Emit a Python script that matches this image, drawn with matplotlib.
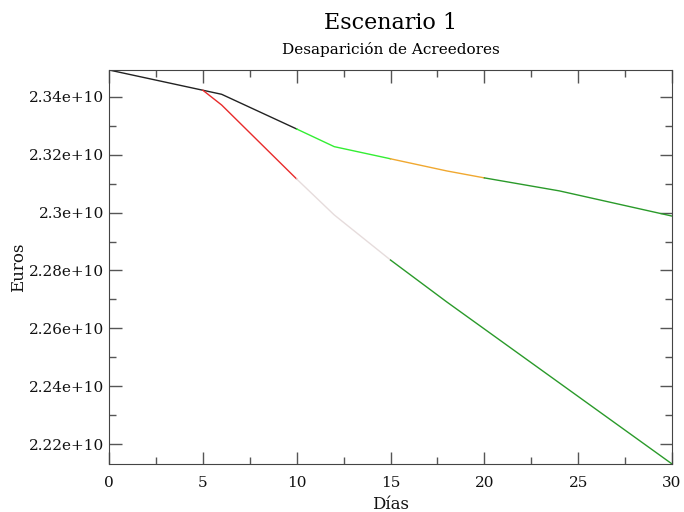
import matplotlib
matplotlib.use('Agg')
import matplotlib.pyplot as plt
from matplotlib.ticker import MultipleLocator, FuncFormatter

# tramos de la serie (dias, euros)
dias_base = [0, 5, 6, 10]
euros_base = [2.3493e10, 2.3423e10, 2.3409e10, 2.3289e10]

dias_verde = [10, 12, 15]
euros_verde = [2.3289e10, 2.3228e10, 2.3186e10]

dias_naranja = [15, 18, 20]
euros_naranja = [2.3186e10, 2.3144e10, 2.3120e10]

dias_sup = [20, 24, 30]
euros_sup = [2.3120e10, 2.3075e10, 2.2988e10]

dias_rojo = [5, 6, 10]
euros_rojo = [2.3423e10, 2.3372e10, 2.3116e10]

dias_gris = [10, 12, 15]
euros_gris = [2.3116e10, 2.2992e10, 2.2836e10]

dias_inf = [15, 18, 24, 30]
euros_inf = [2.2836e10, 2.2691e10, 2.2411e10, 2.2131e10]

tramos = [
    (dias_base, euros_base, '#222222'),
    (dias_verde, euros_verde, '#33ee33'),
    (dias_naranja, euros_naranja, '#f0a830'),
    (dias_sup, euros_sup, '#2a9a2a'),
    (dias_rojo, euros_rojo, '#e82a2a'),
    (dias_gris, euros_gris, '#e6dcdc'),
    (dias_inf, euros_inf, '#2a9a2a'),
]

plt.rcParams['font.family'] = 'DejaVu Serif'

fig = plt.figure(figsize=(6.84, 5.12), dpi=100)
ax = fig.add_axes([0.1594, 0.0938, 0.8231, 0.7695])

for x, y, c in tramos:
    ax.plot(x, y, color=c, lw=1.0)

ax.set_xlim(0, 30)
ax.set_ylim(2.2131e10, 2.3493e10)
ax.xaxis.set_major_locator(MultipleLocator(5))
ax.xaxis.set_minor_locator(MultipleLocator(2.5))
ax.yaxis.set_major_locator(MultipleLocator(0.02e10))
ax.yaxis.set_minor_locator(MultipleLocator(0.01e10))
ax.yaxis.set_major_formatter(FuncFormatter(lambda v, p: '%g' % v))

ax.tick_params(which='both', direction='in', top=True, right=True,
               colors='#555555', labelcolor='#111111', labelsize=11)
ax.tick_params(which='major', length=9, width=1)
ax.tick_params(which='minor', length=5, width=1)
ax.tick_params(axis='x', which='major', pad=9)
for s in ax.spines.values():
    s.set_color('#444444')

ax.set_xlabel('Días', fontsize=12, color='#111111', labelpad=4)
ax.set_ylabel('Euros', fontsize=12, color='#111111', labelpad=1)

fig.text(0.571, 0.955, 'Escenario 1', ha='center', va='center', fontsize=16)
fig.text(0.571, 0.904, 'Desaparición de Acreedores', ha='center', va='center', fontsize=11)

fig.savefig('out.png', dpi=100)
